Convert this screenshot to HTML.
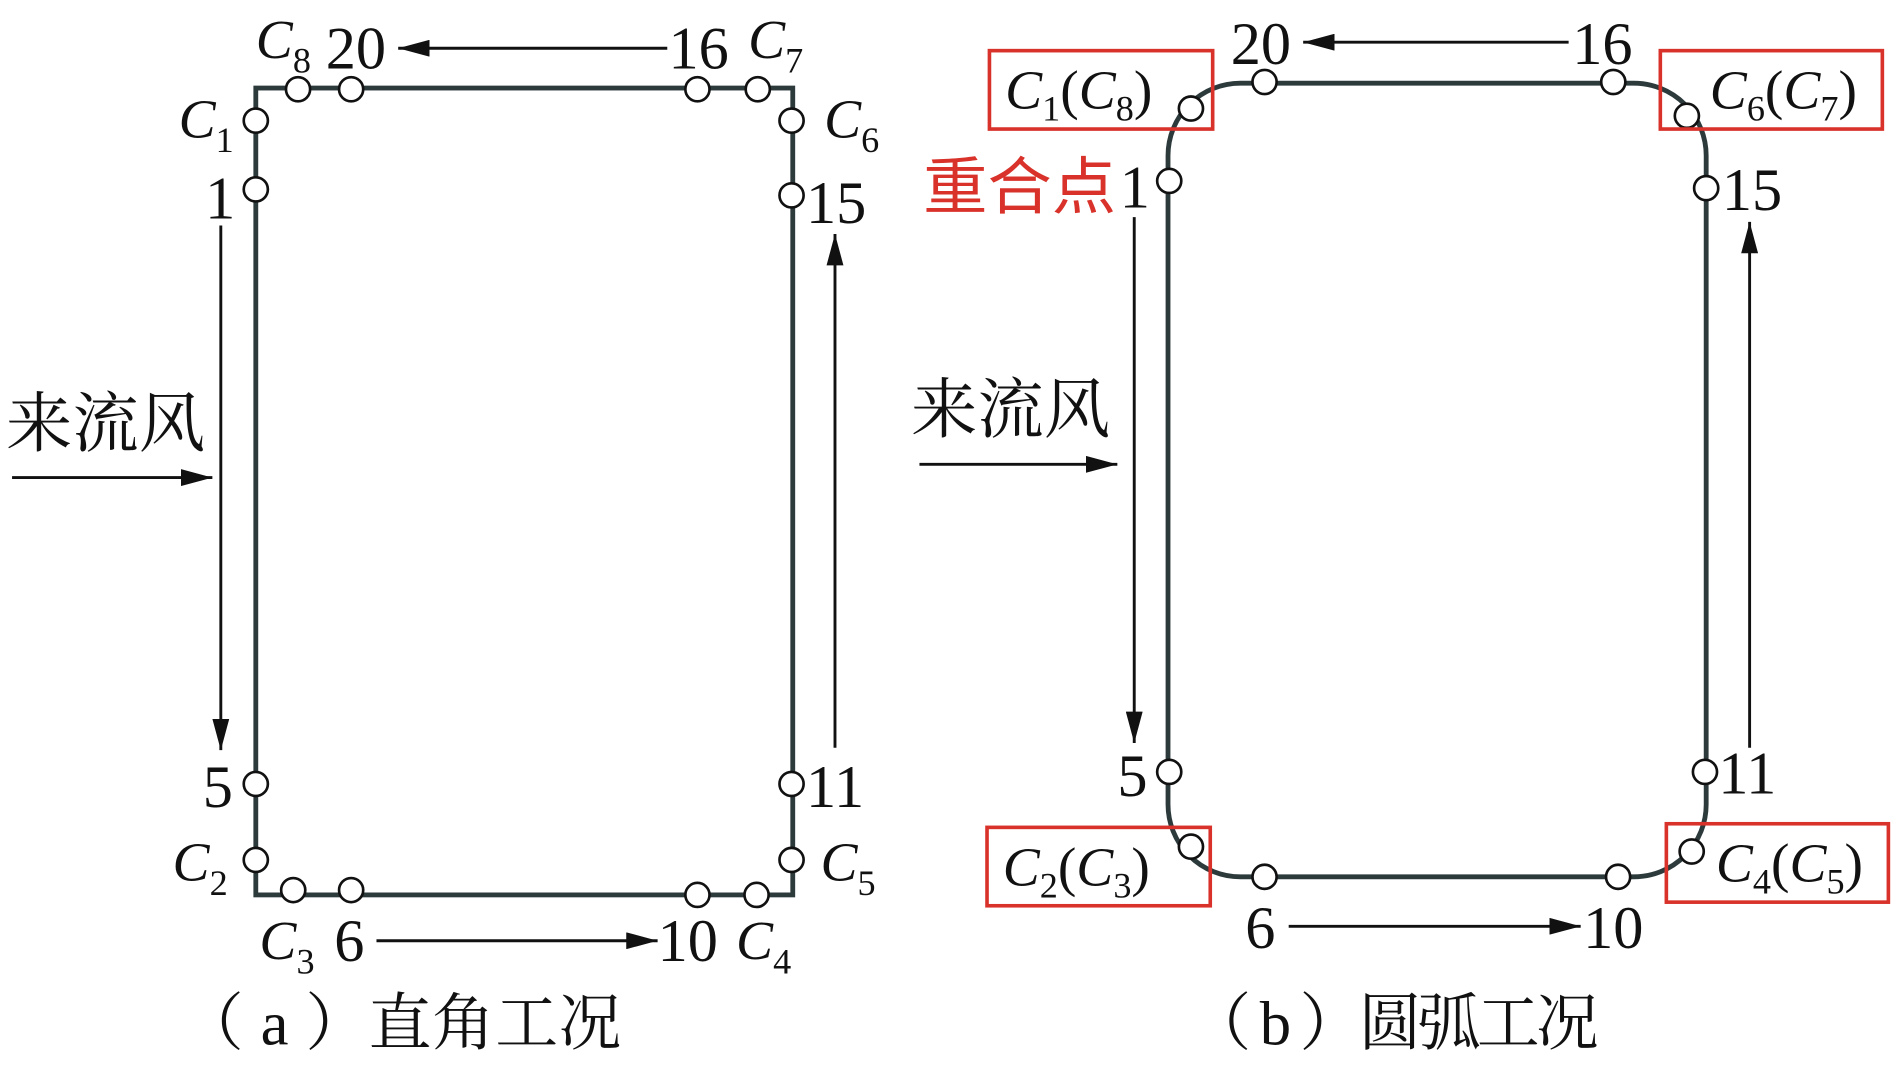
<!DOCTYPE html>
<html><head><meta charset="utf-8"><style>
html,body{margin:0;padding:0;background:#fff;}
svg{display:block;}
text{font-family:"Liberation Serif","Noto Serif CJK SC",serif;fill:#111;}
.n{font-size:50px;}
.c{font-size:46px;font-style:italic;}
.s{font-size:30px;font-style:normal;}
.cj{font-family:"Liberation Serif","Noto Serif CJK SC",serif;font-size:54px;}
.cap{font-family:"Liberation Serif","Noto Serif CJK SC",serif;font-size:52px;}
.r{fill:#d9322b;font-family:"Liberation Sans","Noto Sans CJK SC",sans-serif;font-size:52px;}
circle{fill:#fff;stroke:#111;stroke-width:2.2;}
.ln{stroke:#111;stroke-width:2.4;fill:none;}
</style></head><body>
<svg width="1892" height="1071" viewBox="0 0 1568 888" preserveAspectRatio="none" xmlns="http://www.w3.org/2000/svg">
<defs>
<marker id="b" markerWidth="26" markerHeight="14" refX="26" refY="7" orient="auto" markerUnits="userSpaceOnUse"><path d="M0,0 L26,7 L0,14z" fill="#111"/></marker></defs>

<!-- (a) -->
<rect x="212" y="73" width="445" height="669" fill="none" stroke="#2d3a3c" stroke-width="4"/>
<g>
<circle cx="247" cy="74" r="10"/><circle cx="291" cy="74" r="10"/><circle cx="578" cy="74" r="10"/><circle cx="628" cy="74" r="10"/>
<circle cx="212" cy="100" r="10"/><circle cx="212" cy="157" r="10"/><circle cx="656" cy="100" r="10"/><circle cx="656" cy="162" r="10"/>
<circle cx="212" cy="650" r="10"/><circle cx="656" cy="650" r="10"/><circle cx="212" cy="713" r="10"/><circle cx="656" cy="713" r="10"/>
<circle cx="243" cy="738" r="10"/><circle cx="291" cy="738" r="10"/><circle cx="578" cy="742" r="10"/><circle cx="627" cy="742" r="10"/>
</g>
<text class="c" x="212" y="48">C<tspan class="s" dy="12">8</tspan></text>
<text class="n" x="270" y="57">20</text>
<line class="ln" x1="553" y1="40" x2="330" y2="40" marker-end="url(#b)"/>
<text class="n" x="554" y="57">16</text>
<text class="c" x="620" y="48">C<tspan class="s" dy="12">7</tspan></text>
<text class="c" x="148" y="114">C<tspan class="s" dy="12">1</tspan></text>
<text class="n" x="170" y="181">1</text>
<text class="c" x="683" y="114">C<tspan class="s" dy="12">6</tspan></text>
<text class="n" x="668" y="185">15</text>
<line class="ln" x1="183" y1="187" x2="183" y2="622" marker-end="url(#b)"/>
<line class="ln" x1="692" y1="620" x2="692" y2="194" marker-end="url(#b)"/>
<text class="n" x="168" y="669">5</text>
<text class="n" x="668" y="669">11</text>
<text class="c" x="143" y="730">C<tspan class="s" dy="12">2</tspan></text>
<text class="c" x="680" y="730">C<tspan class="s" dy="12">5</tspan></text>
<text class="c" x="215" y="795">C<tspan class="s" dy="12">3</tspan></text>
<text class="n" x="277" y="797">6</text>
<line class="ln" x1="312" y1="780" x2="545" y2="780" marker-end="url(#b)"/>
<text class="n" x="545" y="797">10</text>
<text class="c" x="610" y="795">C<tspan class="s" dy="12">4</tspan></text>
<text class="cj" x="5" y="370" textLength="165" lengthAdjust="spacingAndGlyphs">来流风</text>
<line class="ln" x1="10" y1="396" x2="176" y2="396" marker-end="url(#b)"/>
<text class="cap" x="150" y="866" textLength="365" lengthAdjust="spacing">（ a ）直角工况</text>

<!-- (b) -->
<rect x="968" y="69" width="446" height="658" rx="60" ry="60" fill="none" stroke="#2d3a3c" stroke-width="4"/>
<g>
<circle cx="1048" cy="68" r="10"/><circle cx="1337" cy="68" r="10"/><circle cx="987" cy="90" r="10"/><circle cx="1398" cy="96" r="10"/>
<circle cx="969" cy="150" r="10"/><circle cx="1414" cy="156" r="10"/><circle cx="969" cy="640" r="10"/><circle cx="1413" cy="640" r="10"/>
<circle cx="987" cy="702" r="10"/><circle cx="1402" cy="706" r="10"/><circle cx="1048" cy="727" r="10"/><circle cx="1341" cy="727" r="10"/>
</g>
<g fill="none" stroke="#d9322b" stroke-width="3">
<rect x="820" y="42" width="185" height="65"/><rect x="1376" y="42" width="184" height="65"/>
<rect x="818" y="686" width="185" height="65"/><rect x="1381" y="683" width="184" height="65"/>
</g>
<text class="c" x="833" y="90">C<tspan class="s" dy="10">1</tspan><tspan dy="-10" style="font-style:normal">(</tspan>C<tspan class="s" dy="10">8</tspan><tspan dy="-10" style="font-style:normal">)</tspan></text>
<text class="c" x="1417" y="90">C<tspan class="s" dy="10">6</tspan><tspan dy="-10" style="font-style:normal">(</tspan>C<tspan class="s" dy="10">7</tspan><tspan dy="-10" style="font-style:normal">)</tspan></text>
<text class="c" x="831" y="734">C<tspan class="s" dy="10">2</tspan><tspan dy="-10" style="font-style:normal">(</tspan>C<tspan class="s" dy="10">3</tspan><tspan dy="-10" style="font-style:normal">)</tspan></text>
<text class="c" x="1422" y="731">C<tspan class="s" dy="10">4</tspan><tspan dy="-10" style="font-style:normal">(</tspan>C<tspan class="s" dy="10">5</tspan><tspan dy="-10" style="font-style:normal">)</tspan></text>
<text class="n" x="1020" y="53">20</text>
<line class="ln" x1="1300" y1="35" x2="1080" y2="35" marker-end="url(#b)"/>
<text class="n" x="1303" y="53">16</text>
<text class="r" x="765" y="173" textLength="160" lengthAdjust="spacingAndGlyphs">重合点</text>
<text class="n" x="928" y="172">1</text>
<text class="n" x="1427" y="174">15</text>
<line class="ln" x1="940" y1="180" x2="940" y2="616" marker-end="url(#b)"/>
<line class="ln" x1="1450" y1="620" x2="1450" y2="184" marker-end="url(#b)"/>
<text class="n" x="926" y="660">5</text>
<text class="n" x="1424" y="658">11</text>
<text class="n" x="1032" y="786">6</text>
<line class="ln" x1="1068" y1="768" x2="1310" y2="768" marker-end="url(#b)"/>
<text class="n" x="1312" y="786">10</text>
<text class="cj" x="755" y="358" textLength="165" lengthAdjust="spacingAndGlyphs">来流风</text>
<line class="ln" x1="762" y1="385" x2="926" y2="385" marker-end="url(#b)"/>
<text class="cap" x="985" y="866" textLength="340" lengthAdjust="spacing">（ b ）圆弧工况</text>
</svg>
</body></html>
